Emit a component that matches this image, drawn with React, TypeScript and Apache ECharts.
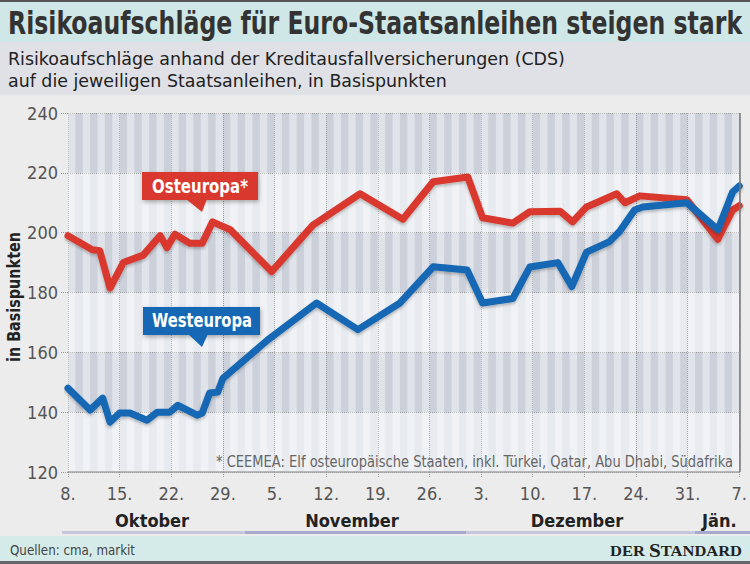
import React, { useEffect, useRef } from 'react';
import * as echarts from 'echarts';

// ---------- data ----------
const tickLabels = ['8.', '15.', '22.', '29.', '5.', '12.', '19.', '26.', '3.', '10.', '17.', '24.', '31.', '7.'];
const months = ['Oktober', 'November', 'Dezember', 'Jän.'];
const monthLabelDays = [11.4, 38.5, 69, 88.3];
const monthBounds = [-0.8, 24, 54, 85, 93];

// days after 8 Oct
const ostDays = [0, 3.3, 4.3, 5.7, 7.5, 10.2, 12.5, 13.4, 14.5, 16.5, 18.2, 19.6, 22.0, 27.6, 33.2, 39.6, 45.4, 49.5, 54.2, 56.2, 58.5, 60.3, 62.6, 66.7, 68.4, 70.3, 74.4, 75.5, 77.5, 83.9, 88.1, 90.1, 91];
const ostValues = [199, 194.3, 194, 181.5, 190, 192.5, 199, 195, 199.5, 196.5, 196.5, 203.6, 201, 187, 202.5, 213, 204.5, 217, 218.6, 205, 204, 203.2, 207, 207.2, 203.6, 208.6, 213, 210, 212.3, 211, 197.8, 207.6, 209];

const westDays = [0, 3.0, 4.7, 5.7, 7.0, 8.4, 10.7, 12.1, 13.8, 14.9, 17.5, 18.2, 19.2, 20.3, 21.0, 27.0, 33.7, 39.3, 45.0, 49.5, 54.1, 56.2, 60.3, 62.6, 66.4, 68.3, 70.3, 73.4, 74.8, 76.8, 77.9, 83.9, 88.1, 90.1, 91];
const westValues = [148, 140.7, 144.7, 136.7, 139.7, 139.7, 137.3, 140, 140, 142.3, 139, 139.7, 146.4, 146.7, 151.3, 164, 176.5, 167.6, 176.5, 188.6, 187.5, 176.5, 178, 188.5, 190, 182, 193.5, 197, 200.5, 207.6, 208.6, 210, 201, 213.6, 215.6];

const dayCats = Array.from({ length: 91 }, (_, i) => String(i));

const titleText = 'Risikoaufschläge für Euro-Staatsanleihen steigen stark';
const subLine1 = 'Risikoaufschläge anhand der Kreditausfallversicherungen (CDS)';
const subLine2 = 'auf die jeweiligen Staatsanleihen, in Basispunkten';
const yName = 'in Basispunkten';
const footnote = '* CEEMEA: Elf osteuropäische Staaten, inkl. Türkei, Qatar, Abu Dhabi, Südafrika';
const source = 'Quellen: cma, markit';

const FONT = '"Liberation Sans Narrow", "DejaVu Sans Condensed", "Roboto Condensed", "Liberation Sans", sans-serif';
const SERIF = '"Liberation Serif", "DejaVu Serif", serif';
const RED = '#d8392f';
const BLUE = '#1668b4';

const ctx = typeof document !== 'undefined' ? document.createElement('canvas').getContext('2d') : null;
function measure(text: string, size: number, weight: string, family: string) {
  if (!ctx) return text.length * size * 0.5;
  ctx.font = `${weight} ${size}px ${family}`;
  return ctx.measureText(text).width;
}
function fit(text: string, size: number, weight: string, family: string, w: number) {
  return w / measure(text, size, weight, family);
}

function txt(text: string, x: number, y: number, size: number, weight: string, color: string, width: number, align: string = 'left', extra: any = {}) {
  const s = fit(text, size, weight, FONT, width);
  return {
    type: 'text',
    x, y,
    scaleX: s,
    z: 20,
    style: { text, fontSize: size, fontWeight: weight, fontFamily: FONT, fill: color, align, verticalAlign: 'middle' },
    ...extra,
  };
}

export default function App() {
  const ref = useRef<HTMLDivElement>(null);
  useEffect(() => {
    const chart = echarts.init(ref.current!, null, { renderer: 'svg' });
    const option: any = {
      animation: false,
      backgroundColor: '#ececec',
      grid: { left: 68, right: 10, top: 113, bottom: 92, show: true, backgroundColor: '#cbd0da', borderWidth: 0 },
      xAxis: [
        {
          type: 'value', min: 0, max: 91, interval: 7,
          axisLine: { show: true, lineStyle: { color: '#a5a5a5', width: 1.5 } },
          axisTick: { show: true, length: 6, lineStyle: { type: 'dotted', color: '#999' } },
          axisLabel: {
            margin: 12, fontSize: 18, color: '#555', fontFamily: FONT,
            formatter: (v: number) => tickLabels[Math.round(v / 7)] ?? '',
          },
          splitLine: { show: true, lineStyle: { type: 'dotted', color: '#9a9a9a' } },
        },
        {
          type: 'category', data: dayCats, position: 'top', boundaryGap: true,
          axisLine: { show: false }, axisTick: { show: false }, axisLabel: { show: false },
          splitLine: { show: false },
          splitArea: { show: true, interval: 0, areaStyle: { color: ['rgba(255,255,255,0.4)', 'rgba(255,255,255,0)'] } },
        },
      ],
      yAxis: {
        type: 'value', min: 120, max: 240, interval: 20,
        axisLine: { show: false },
        axisTick: { show: true, length: 8, lineStyle: { type: 'dotted', color: '#999' } },
        axisLabel: { margin: 10, fontSize: 18, color: '#555', fontFamily: FONT },
        splitLine: { show: true, lineStyle: { type: 'dotted', color: '#9a9a9a' } },
        splitArea: { show: true, areaStyle: { color: ['rgba(255,255,255,0.55)', 'rgba(255,255,255,0)'] } },
      },
      series: [
        {
          type: 'line', name: 'Osteuropa*', xAxisIndex: 0,
          data: ostDays.map((d, i) => [d, ostValues[i]]),
          symbol: 'none', z: 3,
          lineStyle: { color: RED, width: 7, join: 'round', cap: 'round', shadowColor: 'rgba(0,0,0,0.25)', shadowBlur: 3, shadowOffsetY: 2 },
          markLine: {
            silent: true, symbol: ['none', 'none'], label: { show: false },
            lineStyle: { color: '#777', type: 'solid', width: 1.5 },
            data: [{ xAxis: 91 }],
          },
        },
        {
          type: 'line', name: 'Westeuropa', xAxisIndex: 0,
          data: westDays.map((d, i) => [d, westValues[i]]),
          symbol: 'none', z: 4,
          lineStyle: { color: BLUE, width: 7, join: 'round', cap: 'round', shadowColor: 'rgba(0,0,0,0.25)', shadowBlur: 3, shadowOffsetY: 2 },
        },
      ],
    };
    chart.setOption(option);

    const px = (d: number) => chart.convertToPixel({ xAxisIndex: 0 }, d) as number;

    const els: any[] = [];
    // bands
    els.push({ type: 'rect', z: -10, shape: { x: 0, y: 0, width: 750, height: 42 }, style: { fill: '#cfe7e6' } });
    els.push({ type: 'rect', z: -10, shape: { x: 0, y: 0, width: 750, height: 2 }, style: { fill: '#555' } });
    els.push({ type: 'rect', z: -10, shape: { x: 0, y: 42, width: 750, height: 53 }, style: { fill: '#dfe1e6' } });
    els.push({ type: 'rect', z: -10, shape: { x: 0, y: 536, width: 750, height: 28 }, style: { fill: '#d4ebea' } });
    els.push({ type: 'rect', z: -10, shape: { x: 0, y: 561, width: 750, height: 3 }, style: { fill: '#666' } });

    els.push(txt(titleText, 8, 23, 32, 'bold', '#333', 734));
    els.push(txt(subLine1, 8, 59, 18, 'normal', '#222', 557));
    els.push(txt(subLine2, 8, 81, 18, 'normal', '#222', 439));

    // y name
    els.push(txt(yName, 14, 297, 17, 'bold', '#222', 130, 'center', { rotation: Math.PI / 2 }));

    // footnote
    els.push(txt(footnote, 733, 461, 15, 'normal', '#666', 517, 'right'));

    // month bars & labels
    const barColors = ['#c6c7dd', '#a7a9cd'];
    for (let i = 0; i < months.length; i++) {
      const x0 = px(monthBounds[i]);
      const x1 = Math.min(px(monthBounds[i + 1]), 750);
      els.push({ type: 'rect', z: 1, shape: { x: x0, y: 531, width: x1 - x0, height: 3 }, style: { fill: barColors[i % 2] } });
      els.push({
        type: 'text', x: px(monthLabelDays[i]), y: 520, z: 20,
        style: { text: months[i], fontSize: 18, fontWeight: 'bold', fontFamily: FONT, fill: '#222', align: 'center', verticalAlign: 'middle' },
      });
    }

    // footer
    els.push(txt(source, 10, 550, 14, 'normal', '#444', 125));
    const wa = measure('DER ', 14, 'bold', SERIF) + measure('S', 18, 'bold', SERIF) + measure('TANDARD', 14, 'bold', SERIF);
    els.push({
      type: 'text', x: 742, y: 551, z: 20, scaleX: 132 / wa,
      style: {
        text: '{a|DER }{b|S}{a|TANDARD}', align: 'right', verticalAlign: 'middle',
        rich: {
          a: { fontSize: 14, fontWeight: 'bold', fontFamily: SERIF, fill: '#222' },
          b: { fontSize: 18, fontWeight: 'bold', fontFamily: SERIF, fill: '#222' },
        },
      },
    });

    // callouts
    const shadow = { shadowBlur: 4, shadowColor: 'rgba(0,0,0,0.3)', shadowOffsetX: 1, shadowOffsetY: 2 };
    els.push({ type: 'rect', z: 15, shape: { x: 142, y: 172, width: 116, height: 28 }, style: { fill: RED, ...shadow } });
    els.push({ type: 'polygon', z: 15, shape: { points: [[186, 199], [207, 199], [202, 212]] }, style: { fill: RED } });
    els.push(txt('Osteuropa*', 200, 186, 19, 'bold', '#fff', 96, 'center'));
    els.push({ type: 'rect', z: 15, shape: { x: 143, y: 307, width: 117, height: 28 }, style: { fill: BLUE, ...shadow } });
    els.push({ type: 'polygon', z: 15, shape: { points: [[188, 334], [208, 334], [202, 347]] }, style: { fill: BLUE } });
    els.push(txt('Westeuropa', 202, 321, 19, 'bold', '#fff', 100, 'center'));

    chart.setOption({ graphic: { elements: els } });
    return () => chart.dispose();
  }, []);
  return <div ref={ref} style={{ position: 'fixed', left: 0, top: 0, width: 750, height: 564 }} />;
}
